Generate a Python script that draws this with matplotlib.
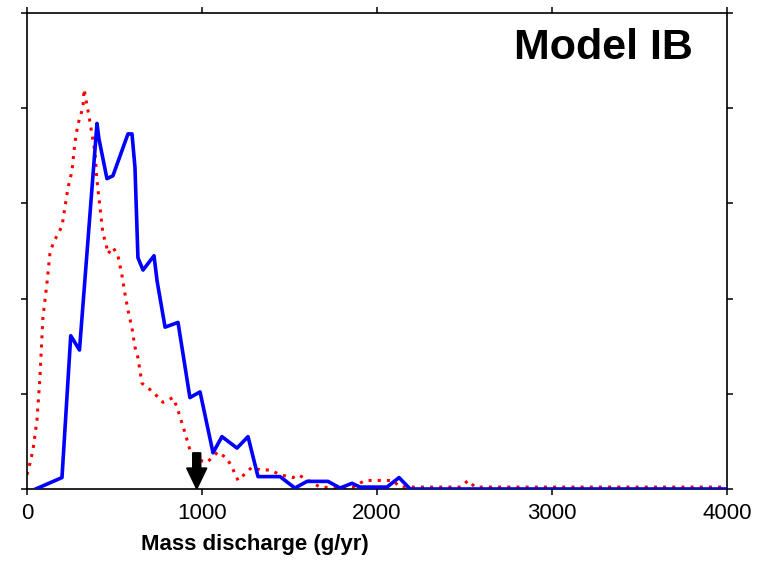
import numpy as np
import matplotlib
matplotlib.use("Agg")
import matplotlib.pyplot as plt

plt.rcParams.update({"font.family": ["Liberation Sans", "DejaVu Sans"]})

# blue (solid) distribution
blue_x = [50, 200, 250, 300, 400, 411, 457, 491, 577, 600, 617, 634, 663, 726, 743,
          789, 863, 931, 989, 1063, 1114, 1200, 1263, 1320, 1446, 1531, 1600, 1720,
          1789, 1857, 1903, 2057, 2126, 2189, 4000]
blue_y = [0.0, 0.12, 1.61, 1.46, 3.84, 3.68, 3.26, 3.29, 3.73, 3.73, 3.38, 2.43, 2.30,
          2.45, 2.19, 1.70, 1.75, 0.96, 1.02, 0.38, 0.55, 0.43, 0.55, 0.13, 0.13, 0.01,
          0.08, 0.08, 0.01, 0.06, 0.02, 0.02, 0.12, 0.0, 0.0]

# red (dotted) distribution
red_x = [0, 17, 34, 57, 74, 91, 114, 131, 149, 177, 200, 217, 234, 257, 274, 291, 320,
         326, 354, 371, 389, 400, 417, 434, 451, 463, 491, 520, 543, 560, 577, 600, 617,
         634, 657, 720, 777, 834, 857, 886, 903, 931, 989, 1029, 1091, 1143, 1171, 1206,
         1286, 1331, 1389, 1446, 1520, 1550, 1674, 1789, 1863, 1931, 2000, 2091, 2131,
         2480, 2520, 2560, 4000]
red_y = [0.15, 0.27, 0.41, 0.72, 1.17, 1.80, 2.16, 2.47, 2.58, 2.68, 2.76, 2.96, 3.16,
         3.34, 3.64, 3.83, 4.01, 4.20, 3.92, 3.73, 3.53, 3.24, 2.96, 2.68, 2.58, 2.47,
         2.54, 2.45, 2.24, 2.05, 1.88, 1.69, 1.49, 1.38, 1.11, 1.02, 0.91, 0.96, 0.86,
         0.69, 0.59, 0.41, 0.30, 0.28, 0.39, 0.32, 0.23, 0.09, 0.23, 0.20, 0.20, 0.15,
         0.12, 0.15, 0.02, 0.01, 0.02, 0.09, 0.09, 0.09, 0.02, 0.02, 0.09, 0.02, 0.02]

arrow_x = 970
xticks = [0, 1000, 2000, 3000, 4000]

fig = plt.figure(figsize=(7.6, 5.73), dpi=100)
ax = fig.add_axes([0.0355, 0.1466, 0.9211, 0.8307])

ax.plot(red_x, red_y, color="red", lw=2.2, ls=(0, (1, 2)), zorder=2)
ax.plot(blue_x, blue_y, color="blue", lw=2.6, zorder=3)
ax.arrow(arrow_x, 0.38, 0, -0.38, width=46, head_width=115, head_length=0.22,
         length_includes_head=True, color="black", zorder=4)

ax.set_xlim(0, 4000)
ax.set_ylim(0, 5)
ax.set_xticks(xticks)
ax.set_yticks(range(6))
ax.set_yticklabels([])
ax.tick_params(direction="out", length=4, width=1.1, top=True, right=True,
               labelsize=16, pad=6)
for s in ax.spines.values():
    s.set_linewidth(1.2)

ax.set_xlabel("Mass discharge (g/yr)", fontsize=16, fontweight="bold")
ax.xaxis.set_label_coords(0.326, -0.095)
ax.text(0.823, 0.926, "Model IB", transform=ax.transAxes, ha="center", va="center",
        fontsize=31, fontweight="bold")

fig.savefig("out.png", dpi=100)
